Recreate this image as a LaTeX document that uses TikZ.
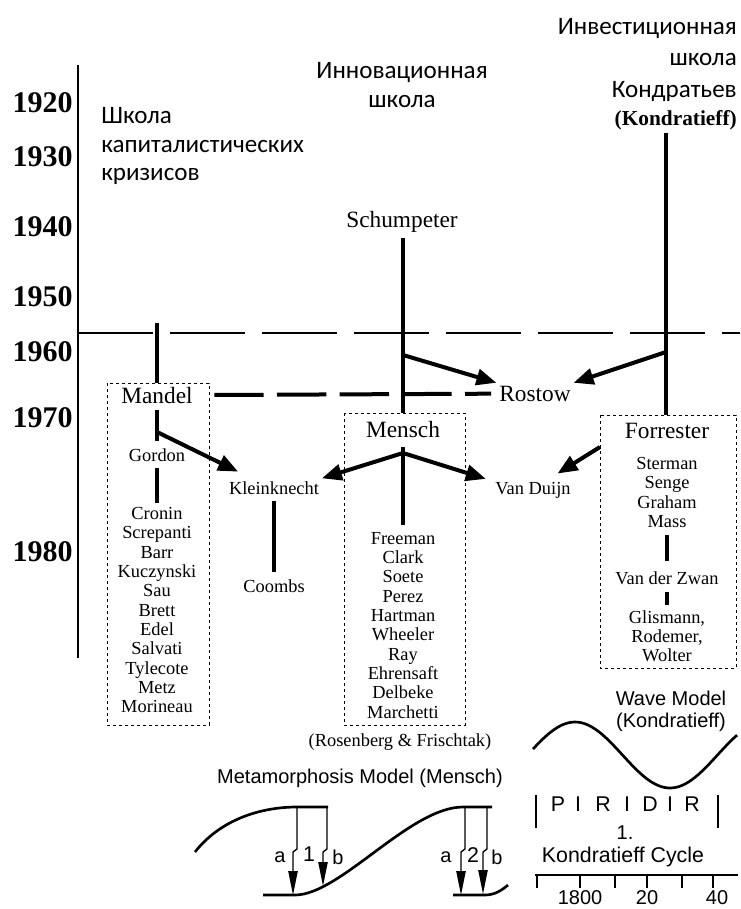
\documentclass[tikz,border=0pt]{standalone}
\usepackage{fontspec}
\setmainfont{Liberation Serif}
\newfontfamily\schoolfont{Carlito}
\newfontfamily\modelfont{Liberation Sans}
\usetikzlibrary{arrows.meta}
\tikzset{
    year label/.style = {font=\bfseries\fontsize{22.5}{24}\selectfont, anchor=east, inner sep=0pt},
    school label/.style = {font=\schoolfont\fontsize{18.8}{21.5}\selectfont, inner sep=0pt},
    big name/.style = {font=\fontsize{17.5}{20}\selectfont, anchor=base, inner sep=2pt},
    small name/.style = {font=\fontsize{13.8}{14.5}\selectfont, anchor=base, inner sep=2pt},
    name list/.style = {font=\fontsize{13.8}{14.5}\selectfont, align=center, anchor=north, inner sep=0pt},
    model label/.style = {font=\modelfont\fontsize{15}{16.5}\selectfont, inner sep=0pt},
    phase label/.style = {font=\modelfont\fontsize{16}{16}\selectfont, inner sep=0pt},
    group box/.style = {draw, line width=0.75pt, dash pattern=on 2.5pt off 2pt},
}
\tikzset{
    stem line/.style = {draw, line width=3pt, shorten <=3pt, shorten >=3pt},
    branch line/.style = {draw, line width=3pt},
    branch arrow/.style = {branch line, -{Triangle[length=15pt, width=12pt]}},
    decade line/.style = {draw, line width=1pt, dash pattern=on 56pt off 13pt},
    school link/.style = {draw, line width=3pt, dash pattern=on 37pt off 10pt, shorten <=4pt, shorten >=4pt},
    phase arrow/.style = {draw, line width=1pt, -{Triangle[length=18pt, width=7pt]}},
    curve line/.style = {draw, line width=2pt},
}

\begin{document}
\begin{tikzpicture}[x=0.75pt, y=-0.75pt]
    \useasboundingbox (0,0) rectangle (740,909);

    % years
    \node[year label] (y1920) at (73,103) {1920};
    \node[year label] (y1930) at (73,157) {1930};
    \node[year label] (y1940) at (73,227) {1940};
    \node[year label] (y1950) at (73,297) {1950};
    \node[year label] (y1960) at (73,352) {1960};
    \node[year label] (y1970) at (73,418) {1970};
    \node[year label] (y1980) at (73,552) {1980};
    \coordinate (axtop) at (78,65);
    \coordinate (axbot) at (78,658);
    \draw[line width=0.8pt] (axtop) -- (axbot);

    % schools
    \node[school label, anchor=north west, align=left] (crisis) at (101,107) {Школа\\капиталистических\\кризисов};
    \node[school label, anchor=north, align=center] (innov) at (402,62) {Инновационная\\школа};
    \node[school label, anchor=north east, align=right] (invest) at (737,18) {Инвестиционная\\[1.5pt]школа\\[3pt]Кондратьев\\[-1pt]{\rmfamily\bfseries\fontsize{16}{18}\selectfont (Kondratieff)}};

    \coordinate (d60w) at (78,333);
    \coordinate (d60e) at (740,333);
    \draw[decade line] (d60w) -- (d60e);

    % boxes
    \coordinate (mboxNW) at (107,383);
    \coordinate (mboxSE) at (209,725);
    \coordinate (mnboxNW) at (344,413);
    \coordinate (mnboxSE) at (465,725);
    \coordinate (fboxNW) at (600,415);
    \coordinate (fboxSE) at (736,668);
    \draw[group box] (mboxNW) rectangle (mboxSE);
    \draw[group box] (mnboxNW) rectangle (mnboxSE);
    \draw[group box] (fboxNW) rectangle (fboxSE);

    % crisis school
    \node[big name] (mandel) at (157,403) {Mandel};
    \node[small name] (gordon) at (157,461) {Gordon};
    \node[name list] (mandellist) at (157,507) {Cronin\\Screpanti\\Barr\\Kuczynski\\Sau\\Brett\\Edel\\Salvati\\Tylecote\\Metz\\Morineau};
    \node[small name] (klein) at (274,494) {Kleinknecht};
    \node[small name] (coombs) at (274,592) {Coombs};

    % innovation school
    \node[big name] (schump) at (402,228) {Schumpeter};
    \node[big name] (rostow) at (535,401) {Rostow};
    \node[big name] (mensch) at (403,437) {Mensch};
    \node[name list] (menschlist) at (403,532) {Freeman\\Clark\\Soete\\Perez\\Hartman\\Wheeler\\Ray\\Ehrensaft\\Delbeke\\Marchetti};
    \node[small name] (vanduijn) at (533,494) {Van Duijn};
    \node[small name] (rosenberg) at (400,746) {(Rosenberg \& Frischtak)};

    % investment school
    \node[big name] (forrester) at (667,438) {Forrester};
    \node[name list] (forrlist) at (667,457) {Sterman\\Senge\\Graham\\Mass};
    \node[small name] (zwan) at (667,584) {Van der Zwan};
    \node[name list] (glislist) at (667,610) {Glismann,\\Rodemer,\\Wolter};

    \coordinate (mtop) at (157,323);
    \draw[branch line] (mtop) -- (mtop |- mboxNW);
    \draw[stem line] (mandel) -- (gordon);
    \coordinate (mbranch) at (157,432);
    \draw[branch arrow] (mbranch) -- ([xshift=9pt,yshift=5pt]klein.north west);
    \draw[stem line] (gordon) -- (mandellist);
    \draw[stem line] (klein) -- (coombs);
    \draw[school link] (mboxSE |- mandel) -- (rostow);

    \coordinate (stop) at (403,238);
    \draw[branch line] (stop) -- (stop |- mnboxNW);
    \coordinate (sbranch) at (403,355);
    \draw[branch arrow] (sbranch) -- (rostow.north west);
    \draw[stem line, shorten <=5pt, shorten >=5pt] (mensch) -- (menschlist);
    \coordinate (mapex) at (403,453);
    \draw[branch arrow] (mapex) -- (klein.north east);
    \draw[branch arrow] (mapex) -- ([xshift=-5pt]vanduijn.north west);

    \coordinate (ktop) at (666,133);
    \draw[branch line] (ktop) -- (ktop |- fboxNW);
    \coordinate (kbranch) at (666,352);
    \draw[branch arrow] (kbranch) -- (rostow.north east);
    \coordinate (fout) at (600,447);
    \draw[branch arrow] (fout) -- ([xshift=-12pt,yshift=4pt]vanduijn.north east);
    \draw[stem line, shorten <=5.5pt, shorten >=5.5pt] (forrlist) -- (zwan);
    \draw[stem line, shorten <=3.5pt, shorten >=3.5pt] (zwan) -- (glislist);

    % metamorphosis model
    \node[model label] (metamodel) at (360,778) {Metamorphosis Model (Mensch)};
    \draw[curve line] (195,852) .. controls (220,820) and (260,807) .. (297,807) -- (328,807);
    \draw[curve line] (263,895) -- (295,895) .. controls (340,895) and (410,807) .. (463,807) -- (492,807);
    \draw[curve line] (453,895) -- (485,895) .. controls (495,895) and (502,890) .. (508,885);
    \draw[phase arrow] (297,807) -- (297,849) -- (293,852) -- (293,895);
    \draw[phase arrow] (327,807) -- (327,849) -- (323,852) -- (323,886);
    \draw[phase arrow] (465,807) -- (465,849) -- (461,852) -- (461,895);
    \draw[phase arrow] (487,807) -- (487,849) -- (483,852) -- (483,894);
    \node[model label] (a1) at (280,857) {a};
    \node[model label, font=\modelfont\fontsize{16}{16}\selectfont] (n1) at (309,854) {1};
    \node[model label] (b1) at (338,857) {b};
    \node[model label] (a2) at (446,857) {a};
    \node[model label, font=\modelfont\fontsize{16}{16}\selectfont] (n2) at (473,855) {2};
    \node[model label] (b2) at (497,857) {b};

    % wave model
    \node[model label, align=center] (wavemodel) at (671,711) {Wave Model\\(Kondratieff)};
    \draw[curve line] plot[domain=533:737, samples=60] (\x, {755-33*cos(1.8947*(\x-575))});
    \draw[line width=1.5pt] (536,795) -- (536,828);
    \draw[line width=1.5pt] (718,795) -- (718,828);
    \foreach \px/\ph [count=\i] in {558/P,578/I,603/R,627/I,650/D,670/I,692/R}
        \node[phase label] (phase\i) at (\px,804) {\ph};
    \node[model label] (cyclenum) at (625,833) {1.};
    \node[model label, font=\modelfont\fontsize{16}{16}\selectfont] (cyclename) at (623,857) {Kondratieff Cycle};
    \draw[line width=1.5pt] (535,875) -- (738,875);
    \foreach \tx in {537,580,615,647,682,713}
        \draw[line width=1.5pt] (\tx,875) -- (\tx,888);
    \node[model label] (t1800) at (580,898) {1800};
    \node[model label] (t20) at (647,898) {20};
    \node[model label] (t40) at (717,898) {40};
\end{tikzpicture}
\end{document}
